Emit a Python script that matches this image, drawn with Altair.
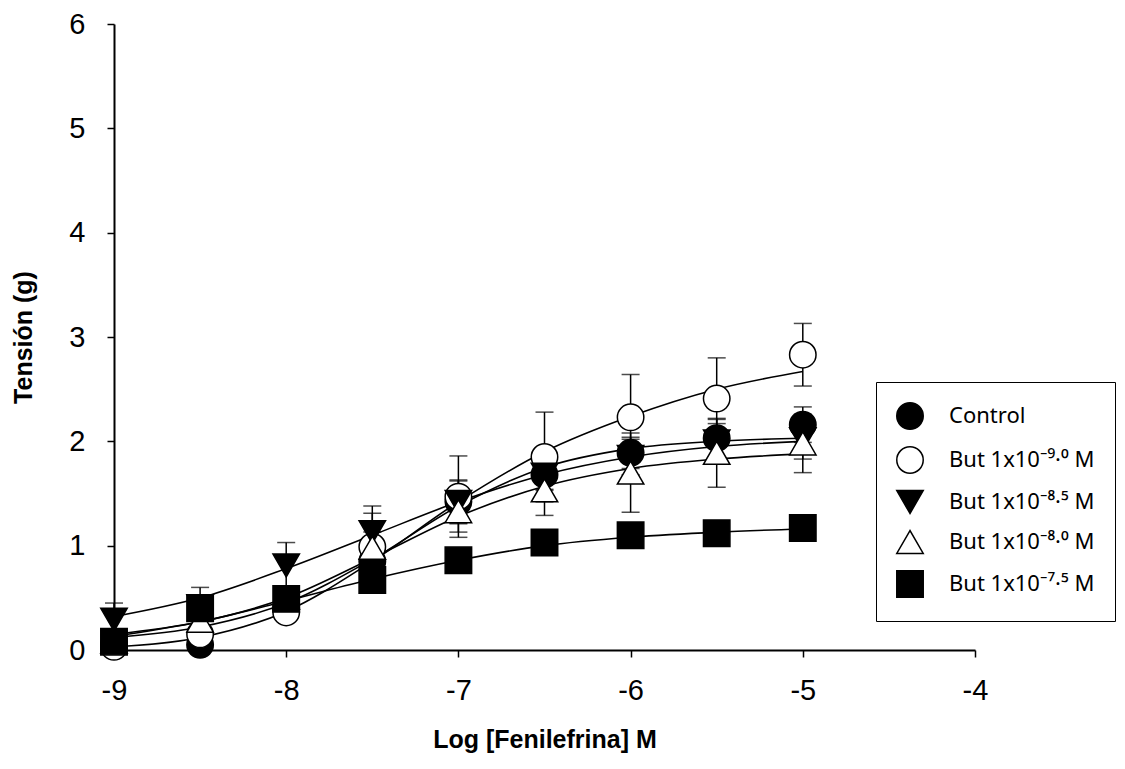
import altair as alt
import pandas as pd

# ---- data ----
log_dose = [-9.0, -8.5, -8.0, -7.5, -7.0, -6.5, -6.0, -5.5, -5.0]

series_names = [
    "Control",
    "But 1x10\u207b\u2079\u00b7\u2070 M",
    "But 1x10\u207b\u2078\u00b7\u2075 M",
    "But 1x10\u207b\u2078\u00b7\u2070 M",
    "But 1x10\u207b\u2077\u00b7\u2075 M",
]
shapes = ["circle", "circle", "triangle-down", "triangle-up", "square"]
fills = ["black", "white", "black", "white", "black"]
strokes = ["black", "black", "black", "black", "black"]

mean_control = [0.05, 0.05, 0.40, 0.85, 1.42, 1.68, 1.89, 2.03, 2.16]
sem_control = [0.03, 0.03, 0.05, 0.10, 0.21, 0.14, 0.15, 0.18, 0.17]

mean_b90 = [0.03, 0.15, 0.36, 0.99, 1.47, 1.85, 2.23, 2.41, 2.83]
sem_b90 = [0.02, 0.05, 0.05, 0.32, 0.39, 0.43, 0.41, 0.39, 0.30]

mean_b85 = [0.29, 0.42, 0.81, 1.13, 1.42, 1.68, 1.85, 2.00, 2.02]
sem_b85 = [0.16, 0.10, 0.22, 0.25, 0.20, 0.15, 0.17, 0.17, 0.19]

mean_b80 = [0.08, 0.28, 0.50, 0.98, 1.33, 1.53, 1.70, 1.89, 1.98]
sem_b80 = [0.05, 0.08, 0.10, 0.15, 0.20, 0.24, 0.38, 0.33, 0.28]

mean_b75 = [0.08, 0.40, 0.49, 0.67, 0.86, 1.03, 1.10, 1.12, 1.17]
sem_b75 = [0.03, 0.20, 0.05, 0.05, 0.05, 0.05, 0.04, 0.04, 0.04]

# fitted curves, read at each dose
curve_control = [0.12, 0.22, 0.45, 0.87, 1.38, 1.75, 1.93, 2.00, 2.03]
curve_b90 = [0.03, 0.12, 0.37, 0.85, 1.42, 1.90, 2.24, 2.50, 2.67]
curve_b85 = [0.32, 0.50, 0.78, 1.10, 1.42, 1.68, 1.85, 1.95, 2.00]
curve_b80 = [0.15, 0.27, 0.50, 0.88, 1.28, 1.57, 1.74, 1.83, 1.88]
curve_b75 = [0.13, 0.27, 0.47, 0.68, 0.86, 1.00, 1.08, 1.13, 1.16]

x_ticks = [-9, -8, -7, -6, -5, -4]
y_ticks = [0, 1, 2, 3, 4, 5, 6]

means = [mean_control, mean_b90, mean_b85, mean_b80, mean_b75]
sems = [sem_control, sem_b90, sem_b85, sem_b80, sem_b75]
curves = [curve_control, curve_b90, curve_b85, curve_b80, curve_b75]

rows = []
for i, name in enumerate(series_names):
    for j, xv in enumerate(log_dose):
        rows.append({
            "serie": name, "order": i, "x": xv,
            "y": means[i][j], "lo": means[i][j] - sems[i][j],
            "hi": means[i][j] + sems[i][j], "fit": curves[i][j],
        })
df = pd.DataFrame(rows)

FONT = "Liberation Sans"
LEGEND_FONT = "Noto Sans"

xs = alt.Scale(domain=[-9, -4], nice=False, zero=False)
ys = alt.Scale(domain=[0, 6], nice=False, zero=False)

X = alt.X("x:Q", scale=xs, title="Log [Fenilefrina] M",
          axis=alt.Axis(values=x_ticks, labelExpr="'' + datum.value", labelFlush=False))
Y = alt.Y("y:Q", scale=ys, title="Tensión (g)",
          axis=alt.Axis(values=y_ticks, labelExpr="'' + datum.value"))

base = alt.Chart(df)

lines = base.mark_line(color="black", strokeWidth=1.6, interpolate="monotone").encode(
    x=X, y=alt.Y("fit:Q", scale=ys, title="Tensión (g)"), detail="serie:N"
)

err = base.mark_rule(color="black", strokeWidth=1.5).encode(
    x=X, y=alt.Y("lo:Q", scale=ys, title="Tensión (g)"), y2="hi:Q"
)
cap_hi = base.mark_tick(color="black", orient="horizontal", size=18, thickness=1.5).encode(
    x=X, y=alt.Y("hi:Q", scale=ys, title="Tensión (g)")
)
cap_lo = base.mark_tick(color="black", orient="horizontal", size=18, thickness=1.5).encode(
    x=X, y=alt.Y("lo:Q", scale=ys, title="Tensión (g)")
)

points = base.mark_point(filled=True, strokeWidth=1.5, size=700, opacity=1).encode(
    x=X, y=Y,
    shape=alt.Shape("serie:N", scale=alt.Scale(domain=series_names, range=shapes), title=None),
    fill=alt.Fill("serie:N", scale=alt.Scale(domain=series_names, range=fills), title=None),
    stroke=alt.Stroke("serie:N", scale=alt.Scale(domain=series_names, range=strokes), title=None),
    order=alt.Order("order:Q"),
)

chart = alt.layer(err, cap_hi, cap_lo, lines, points).properties(
    width=861, height=626,
    autosize=alt.AutoSizeParams(type="none"),
    padding={"left": 106, "top": 16, "right": 142, "bottom": 111},
).configure_view(stroke=None).configure_axis(
    grid=False, domainColor="black", domainWidth=2, tickColor="black", tickWidth=1.5,
    tickSize=7, labelFont=FONT, labelFontSize=29, labelColor="black",
    titleFont=FONT, titleFontSize=25, titleFontWeight="bold", titleColor="black",
).configure_axisX(labelPadding=19, titlePadding=22).configure_axisY(
    labelPadding=22, titlePadding=32
).configure_legend(
    orient="none", legendX=762, legendY=358, strokeColor="black", fillColor="white",
    padding=20, labelFont=LEGEND_FONT, labelFontSize=22, labelColor="black",
    symbolSize=700, symbolStrokeColor="black", symbolStrokeWidth=1.5,
    rowPadding=10, labelOffset=25,
)

chart.save("out.html", embed_options={"renderer": "svg", "actions": False})
